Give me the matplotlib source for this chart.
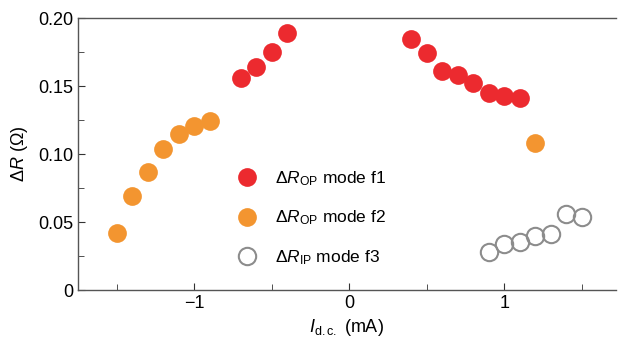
import matplotlib
matplotlib.use("Agg")
import matplotlib.pyplot as plt
from matplotlib.ticker import MultipleLocator

fam = 'Liberation Sans'
plt.rcParams['font.family'] = [fam, 'DejaVu Sans']
plt.rcParams['mathtext.fontset'] = 'custom'
plt.rcParams['mathtext.rm'] = fam
plt.rcParams['mathtext.it'] = fam + ':italic'
plt.rcParams['mathtext.bf'] = fam + ':bold'

# data
f1_x = [-0.7, -0.6, -0.5, -0.4, 0.4, 0.5, 0.6, 0.7, 0.8, 0.9, 1.0, 1.1]
f1_y = [0.156, 0.164, 0.175, 0.189, 0.185, 0.174, 0.161, 0.158, 0.152, 0.145, 0.143, 0.141]
f2_x = [-1.5, -1.4, -1.3, -1.2, -1.1, -1.0, -0.9, 1.2]
f2_y = [0.042, 0.069, 0.087, 0.104, 0.115, 0.121, 0.124, 0.108]
f3_x = [0.9, 1.0, 1.1, 1.2, 1.3, 1.4, 1.5]
f3_y = [0.028, 0.034, 0.035, 0.040, 0.041, 0.056, 0.054]

red = '#EC2A2F'
orange = '#F39530'
gray = '#8C8C8C'

fig = plt.figure(figsize=(6.21, 3.42), dpi=100)
ax = fig.add_axes([0.1256, 0.152, 0.866, 0.795])

ax.plot(f1_x, f1_y, 'o', ms=13.5, color=red, mec='none', label=r'$\Delta \mathit{R}_{\rm OP}$ mode f1')
ax.plot(f2_x, f2_y, 'o', ms=13.5, color=orange, mec='none', label=r'$\Delta \mathit{R}_{\rm OP}$ mode f2')
ax.plot(f3_x, f3_y, 'o', ms=12.5, mfc='none', mec=gray, mew=1.5, label=r'$\Delta \mathit{R}_{\rm IP}$ mode f3')

ax.set_xlim(-1.75, 1.72)
ax.set_ylim(0, 0.2)
ax.xaxis.set_minor_locator(MultipleLocator(0.5))
ax.yaxis.set_minor_locator(MultipleLocator(0.025))
ax.set_yticks([0, 0.05, 0.10, 0.15, 0.20])
ax.set_yticklabels(['0', '0.05', '0.10', '0.15', '0.20'])
ax.set_xticks([-1, 0, 1])
ax.set_xticklabels(['\u22121', '0', '1'])

ax.tick_params(which='both', direction='in', labelsize=13, color='#333333')
ax.tick_params(which='major', length=5)
ax.tick_params(which='minor', length=4)
ax.spines['right'].set_visible(False)
for s in ['left', 'bottom', 'top']:
    ax.spines[s].set_color('#555555')
    ax.spines[s].set_linewidth(1.0)

ax.set_xlabel(r'$\mathit{I}_{\rm d.c.}$ (mA)', fontsize=13, labelpad=4)
ax.set_ylabel(r'$\Delta \mathit{R}$ ($\Omega$)', fontsize=13, labelpad=6)

leg = ax.legend(loc='upper left', bbox_to_anchor=(0.269, 0.47), frameon=False,
                fontsize=12.5, handletextpad=0.6, labelspacing=1.2, borderaxespad=0)
fig.savefig('out.png', dpi=100)
